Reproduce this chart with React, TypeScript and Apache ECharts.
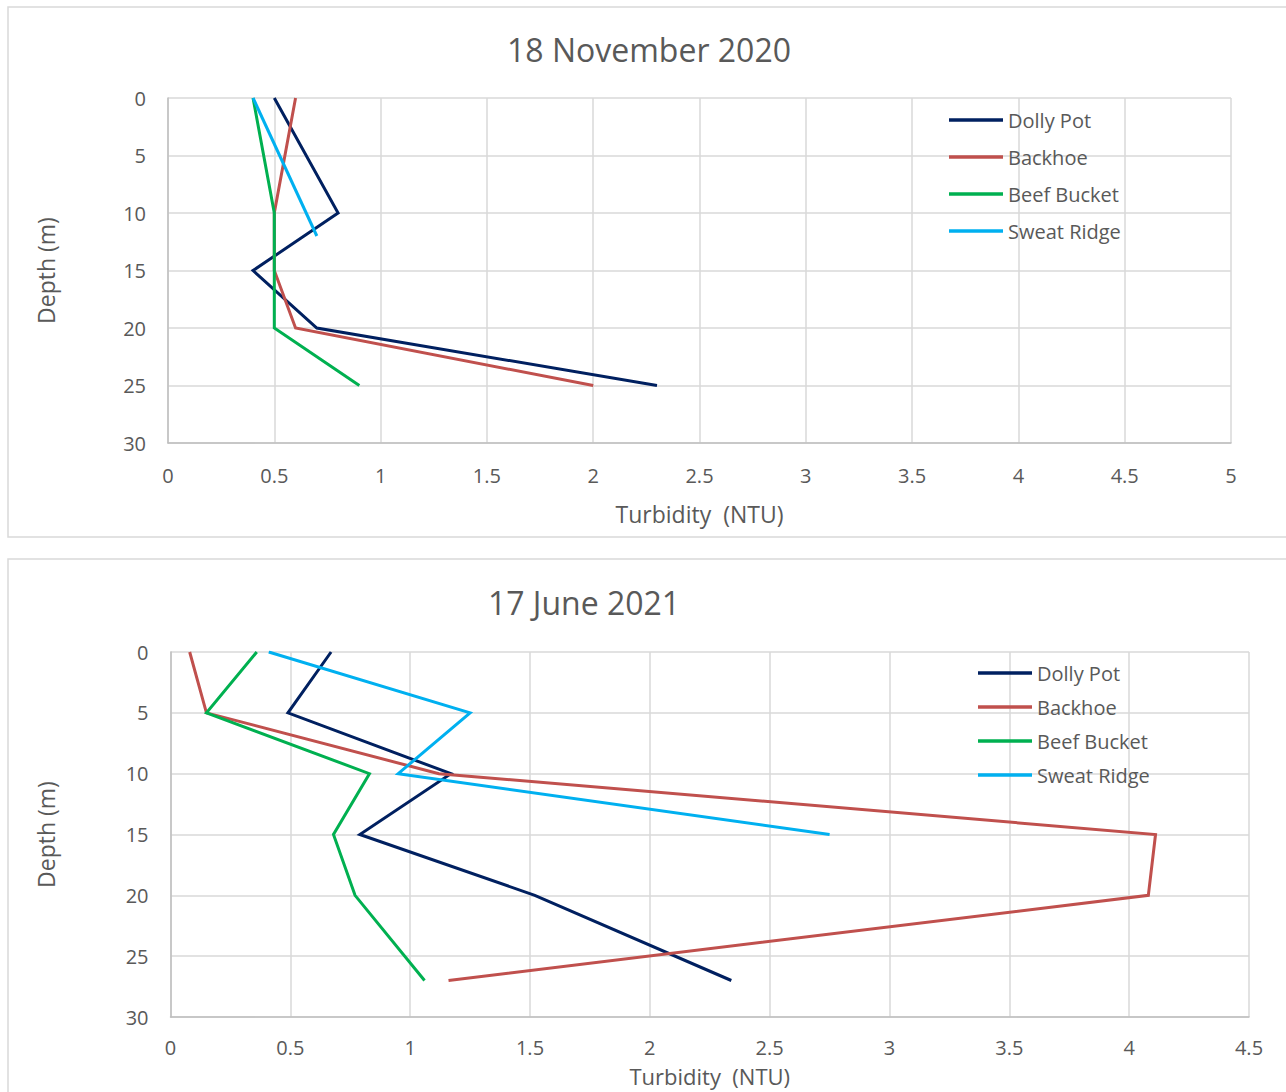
import React, { useEffect, useRef } from "react";
import * as echarts from "echarts";

// ---- Data: 18 November 2020 ----
const novDollyPotDepth = [0, 10, 15, 20, 25];
const novDollyPotNTU = [0.5, 0.8, 0.4, 0.7, 2.3];
const novBackhoeDepth = [0, 10, 15, 20, 25];
const novBackhoeNTU = [0.6, 0.5, 0.5, 0.6, 2.0];
const novBeefBucketDepth = [0, 10, 15, 20, 25];
const novBeefBucketNTU = [0.4, 0.5, 0.5, 0.5, 0.9];
const novSweatRidgeDepth = [0, 12];
const novSweatRidgeNTU = [0.4, 0.7];

// ---- Data: 17 June 2021 ----
const junDollyPotDepth = [0, 5, 10, 15, 20, 27];
const junDollyPotNTU = [0.67, 0.49, 1.17, 0.79, 1.52, 2.34];
const junBackhoeDepth = [0, 5, 10, 15, 20, 27];
const junBackhoeNTU = [0.08, 0.15, 1.12, 4.11, 4.08, 1.16];
const junBeefBucketDepth = [0, 5, 10, 15, 20, 27];
const junBeefBucketNTU = [0.36, 0.15, 0.83, 0.68, 0.77, 1.06];
const junSweatRidgeDepth = [0, 5, 10, 15];
const junSweatRidgeNTU = [0.41, 1.25, 0.95, 2.75];

const seriesNames = ["Dolly Pot", "Backhoe", "Beef Bucket", "Sweat Ridge"];
const seriesColors = ["#002060", "#C0504D", "#00B050", "#00B0F0"];
const titles = ["18 November 2020", "17 June 2021"];
const xAxisName = "Turbidity  (NTU)";
const yAxisName = "Depth (m)";

const FONT = '"Open Sans", sans-serif';
const TEXT = "#595959";

const pairs = (xs: number[], ys: number[]) => xs.map((x, i) => [x, ys[i]]);

export default function App() {
  const ref = useRef<HTMLDivElement>(null);
  useEffect(() => {
    document.body.style.margin = "0";
    const chart = echarts.init(ref.current!, null, { renderer: "svg" });

    const novSets = [
      pairs(novDollyPotNTU, novDollyPotDepth),
      pairs(novBackhoeNTU, novBackhoeDepth),
      pairs(novBeefBucketNTU, novBeefBucketDepth),
      pairs(novSweatRidgeNTU, novSweatRidgeDepth),
    ];
    const junSets = [
      pairs(junDollyPotNTU, junDollyPotDepth),
      pairs(junBackhoeNTU, junBackhoeDepth),
      pairs(junBeefBucketNTU, junBeefBucketDepth),
      pairs(junSweatRidgeNTU, junSweatRidgeDepth),
    ];

    const mkX = (gridIndex: number, max: number, nameGap: number, nameSize: number, labelMargin: number) => ({
      type: "value",
      gridIndex,
      min: 0,
      max,
      interval: 0.5,
      name: xAxisName,
      nameLocation: "middle",
      nameGap,
      nameTextStyle: { fontFamily: FONT, fontSize: nameSize, color: TEXT, lineHeight: nameSize },
      axisLine: { show: true, onZero: false, lineStyle: { color: "#BFBFBF", width: 1.5 } },
      axisTick: { show: false },
      axisLabel: { fontFamily: FONT, fontSize: 20, color: TEXT, margin: labelMargin, lineHeight: 20 },
      splitLine: { show: true, lineStyle: { color: "#D9D9D9", width: 1.5 } },
    });
    const mkY = (gridIndex: number, nameGap: number) => ({
      type: "value",
      gridIndex,
      inverse: true,
      min: 0,
      max: 30,
      interval: 5,
      name: yAxisName,
      nameLocation: "middle",
      nameGap,
      nameTextStyle: { fontFamily: FONT, fontSize: 23, color: TEXT, lineHeight: 23 },
      axisLine: { show: true, onZero: false, lineStyle: { color: "#BFBFBF", width: 1.5 } },
      axisTick: { show: false },
      axisLabel: { fontFamily: FONT, fontSize: 20, color: TEXT, margin: 22, lineHeight: 20 },
      splitLine: { show: true, lineStyle: { color: "#D9D9D9", width: 1.5 } },
    });
    const mkSeries = (sets: number[][][], idx: number) =>
      sets.map((d, i) => ({
        type: "line",
        name: seriesNames[i],
        xAxisIndex: idx,
        yAxisIndex: idx,
        data: d,
        symbol: "none",
        showSymbol: false,
        color: seriesColors[i],
        lineStyle: { color: seriesColors[i], width: 3, join: "miter" },
      }));
    const mkLegend = (left: number, top: number, itemGap: number) => ({
      orient: "vertical",
      left,
      top,
      icon: "rect",
      itemWidth: 54,
      itemHeight: 3.5,
      itemGap,
      data: seriesNames,
      textStyle: { fontFamily: FONT, fontSize: 20, color: TEXT, lineHeight: 20 },
    });

    chart.setOption({
      animation: false,
      backgroundColor: "#ffffff",
      graphic: [
        {
          type: "rect",
          shape: { x: 8, y: 7, width: 1300, height: 530 },
          style: { fill: "none", stroke: "#D9D9D9", lineWidth: 1.5 },
          silent: true,
        },
        {
          type: "rect",
          shape: { x: 8, y: 559, width: 1300, height: 600 },
          style: { fill: "none", stroke: "#D9D9D9", lineWidth: 1.5 },
          silent: true,
        },
        {
          type: "text",
          x: 649,
          y: 49,
          style: {
            text: titles[0],
            fontFamily: FONT,
            fontSize: 32,
            fill: TEXT,
            align: "center",
            verticalAlign: "middle",
          },
        },
        {
          type: "text",
          x: 584,
          y: 602,
          style: {
            text: titles[1],
            fontFamily: FONT,
            fontSize: 32,
            fill: TEXT,
            align: "center",
            verticalAlign: "middle",
          },
        },
      ],
      grid: [
        { left: 168, top: 98, width: 1063, height: 345, containLabel: false },
        { left: 170.5, top: 652, width: 1078.5, height: 365, containLabel: false },
      ],
      xAxis: [mkX(0, 5, 59, 23, 22), mkX(1, 4.5, 48, 22, 20)],
      yAxis: [mkY(0, 111), mkY(1, 113)],
      legend: [mkLegend(944, 105, 17), mkLegend(973, 658, 14)],
      series: [...mkSeries(novSets, 0), ...mkSeries(junSets, 1)],
    });
    return () => chart.dispose();
  }, []);
  return <div ref={ref} style={{ width: 1286, height: 1092 }} />;
}
